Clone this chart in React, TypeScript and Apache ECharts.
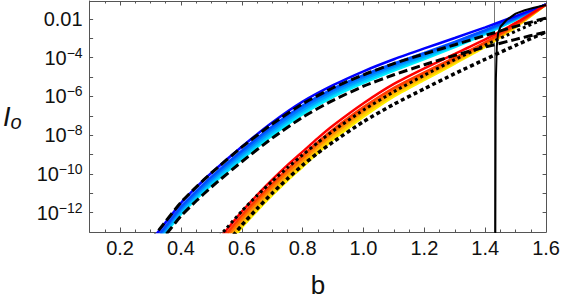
import React, { useEffect, useRef } from 'react';
import * as echarts from 'echarts';

// x grid and log10 values (exponents)
const blueX = [0.30, 0.35, 0.40, 0.45, 0.50, 0.60, 0.70, 0.80, 0.90, 1.00, 1.10, 1.20, 1.30, 1.40, 1.50, 1.60];
const blueTopLog = [-13.5, -12.5, -11.5, -10.7, -9.95, -8.6, -7.35, -6.27, -5.42, -4.7, -4.08, -3.52, -2.98, -2.43, -1.85, -1.25];
const blueBand1Log = [-13.7, -12.7, -11.7, -10.9, -10.15, -8.8, -7.55, -6.47, -5.6, -4.9, -4.3, -3.75, -3.18, -2.57, -1.93, -1.25];
const blueBand2Log = [-13.79, -12.79, -11.8, -11.0, -10.26, -8.91, -7.67, -6.58, -5.7, -5.0, -4.39, -3.83, -3.25, -2.62, -1.96, -1.25];
const blueBand3Log = [-13.88, -12.88, -11.89, -11.1, -10.36, -9.03, -7.78, -6.69, -5.81, -5.1, -4.48, -3.91, -3.32, -2.68, -1.99, -1.25];
const blueBand4Log = [-13.96, -12.96, -11.99, -11.2, -10.47, -9.14, -7.9, -6.8, -5.91, -5.2, -4.57, -3.99, -3.38, -2.73, -2.02, -1.25];
const cyanLog = [-14.05, -13.05, -12.08, -11.3, -10.57, -9.25, -8.01, -6.91, -6.02, -5.3, -4.66, -4.07, -3.45, -2.78, -2.05, -1.25];
const dashUpperLog = [-13.45, -12.45, -11.47, -10.68, -9.95, -8.62, -7.42, -6.38, -5.55, -4.88, -4.3, -3.8, -3.33, -2.85, -2.38, -1.95];
const dashLowerLog = [-14.15, -13.15, -12.18, -11.4, -10.68, -9.37, -8.15, -7.07, -6.2, -5.47, -4.88, -4.36, -3.88, -3.45, -3.05, -2.67];

const redX = [0.50, 0.55, 0.60, 0.65, 0.70, 0.75, 0.80, 0.85, 0.90, 1.00, 1.10, 1.20, 1.30, 1.40, 1.50, 1.60];
const redTopLog = [-13.85, -12.9, -11.95, -11.1, -10.3, -9.55, -8.85, -8.15, -7.5, -6.35, -5.35, -4.55, -3.8, -3.05, -2.2, -1.25];
const redBand1Log = [-14.05, -13.1, -12.15, -11.3, -10.5, -9.75, -9.05, -8.35, -7.7, -6.55, -5.55, -4.75, -4.0, -3.2, -2.28, -1.25];
const redBand2Log = [-14.21, -13.26, -12.31, -11.45, -10.65, -9.9, -9.2, -8.49, -7.84, -6.68, -5.66, -4.85, -4.08, -3.26, -2.32, -1.25];
const redBand3Log = [-14.38, -13.43, -12.46, -11.61, -10.8, -10.05, -9.34, -8.63, -7.97, -6.8, -5.78, -4.95, -4.15, -3.32, -2.35, -1.25];
const redBand4Log = [-14.54, -13.59, -12.62, -11.76, -10.95, -10.19, -9.49, -8.77, -8.11, -6.93, -5.89, -5.05, -4.23, -3.37, -2.39, -1.25];
const yellowLog = [-14.7, -13.75, -12.77, -11.91, -11.1, -10.34, -9.63, -8.91, -8.24, -7.05, -6.0, -5.15, -4.3, -3.43, -2.42, -1.25];
const dotUpperLog = [-13.7, -12.8, -11.92, -11.12, -10.38, -9.68, -9.02, -8.38, -7.78, -6.7, -5.75, -4.9, -4.1, -3.35, -2.63, -1.95];
const dotLowerLog = [-14.6, -13.6, -12.65, -11.8, -11.0, -10.25, -9.55, -8.92, -8.35, -7.3, -6.4, -5.6, -4.82, -4.08, -3.36, -2.67];

const poleX = [1.433, 1.434, 1.435, 1.438, 1.442, 1.45, 1.47, 1.50, 1.53, 1.56, 1.60];
const poleLog = [-14, -7.0, -5.1, -3.4, -2.75, -2.4, -2.05, -1.72, -1.55, -1.42, -1.28];
const poleB = 1.433;

const xMajorTicks = [0.2, 0.4, 0.6, 0.8, 1.0, 1.2, 1.4, 1.6];
const yMinLog = -13;
const yMaxLog = -1.07;

const blueColors = ['#0000ff', '#0050ff', '#0078ff', '#00a0ff', '#00c8ff', '#00f0ff'];
const redColors = ['#ff0000', '#ff3c00', '#ff6e00', '#ff9c00', '#ffc800', '#ffee00'];

export default function App() {
  const ref = useRef<HTMLDivElement>(null);
  useEffect(() => {
    const chart = echarts.init(ref.current as HTMLDivElement, null, { renderer: 'svg' });
    const font = '"Liberation Sans", Arial, sans-serif';
    const axisColor = '#555';
    const textColor = '#111';
    const pairs = (xs: number[], ys: number[]) => xs.map((x, i) => [x, ys[i]]);
    const line = (name: string, xs: number[], ys: number[], color: string, width: number, type: any, z: number, smooth: any = 0.2, extra: any = {}) => ({
      type: 'line', name, data: pairs(xs, ys), showSymbol: false, symbol: 'none', smooth, clip: true, z,
      silent: true, xAxisIndex: 0, yAxisIndex: 0,
      lineStyle: { color, width, type, cap: 'butt' },
      emphasis: { disabled: true },
      ...extra,
    });

    const blueSets = [blueTopLog, blueBand1Log, blueBand2Log, blueBand3Log, blueBand4Log, cyanLog];
    const redSets = [redTopLog, redBand1Log, redBand2Log, redBand3Log, redBand4Log, yellowLog];
    const series: any[] = [];
    for (let i = blueSets.length - 1; i >= 0; i--) {
      series.push(line('blue' + i, blueX, blueSets[i], blueColors[i], 2.5, 'solid', 2 + (blueSets.length - i) * 0.01));
    }
    for (let i = redSets.length - 1; i >= 0; i--) {
      series.push(line('red' + i, redX, redSets[i], redColors[i], 2.5, 'solid', 2 + (redSets.length - i) * 0.01));
    }
    series.push(line('dashUpper', blueX, dashUpperLog, '#000', 3, [9, 4], 5));
    series.push(line('dashLower', blueX, dashLowerLog, '#000', 3, [9, 4], 5));
    series.push(line('dotUpper', redX, dotUpperLog, '#000', 3, [3, 3], 5));
    series.push(line('dotLower', redX, dotLowerLog, '#000', 3.5, [4, 3], 5));
    series.push(line('pole', poleX, poleLog, '#000', 2, 'solid', 6, false, {
      markLine: {
        silent: true, symbol: 'none', label: { show: false },
        lineStyle: { color: '#777', width: 1, type: 'solid' },
        data: [{ xAxis: poleB }],
        z: 1,
      },
    }));

    const tickStyle = { color: axisColor, width: 1 };
    const xBase = { type: 'value', min: 0.1, max: 1.6, splitLine: { show: false } };
    const yBase = { type: 'value', min: yMinLog, max: yMaxLog, interval: 1, splitLine: { show: false } };

    chart.setOption({
      animation: false,
      backgroundColor: '#ffffff',
      grid: { left: 83, right: 16, top: 1, bottom: 72, containLabel: false },
      xAxis: [
        { ...xBase, position: 'bottom', interval: 0.05,
          axisLine: { show: true, onZero: false, lineStyle: tickStyle },
          axisTick: { show: true, inside: true, length: 2.5, lineStyle: tickStyle },
          axisLabel: { show: false } },
        { ...xBase, position: 'bottom',
          axisLine: { show: false, onZero: false },
          axisTick: { show: true, inside: true, length: 4.5, customValues: xMajorTicks, lineStyle: tickStyle },
          axisLabel: { show: true, customValues: xMajorTicks, formatter: (v: number) => v.toFixed(1), fontSize: 20, fontFamily: font, color: textColor, margin: 6 },
          name: 'b', nameLocation: 'middle', nameGap: 40,
          nameTextStyle: { fontSize: 26, fontFamily: font, color: textColor } },
        { ...xBase, position: 'top', interval: 0.05,
          axisLine: { show: true, onZero: false, lineStyle: tickStyle },
          axisTick: { show: true, inside: true, length: 2.5, lineStyle: tickStyle },
          axisLabel: { show: false } },
        { ...xBase, position: 'top',
          axisLine: { show: false, onZero: false },
          axisTick: { show: true, inside: true, length: 4.5, customValues: xMajorTicks, lineStyle: tickStyle },
          axisLabel: { show: false } },
      ],
      yAxis: [
        { ...yBase, position: 'left',
          axisLine: { show: true, onZero: false, lineStyle: tickStyle },
          axisTick: { show: true, inside: true, length: 3.5, lineStyle: tickStyle },
          axisLabel: {
            margin: 7,
            formatter: (v: number) => {
              const n = Math.round(v);
              if (Math.abs(v - n) > 1e-6 || n % 2 !== 0) return '';
              if (n === -2) return '{n|0.01}';
              return '{n|10}{s|\u2212' + (-n) + '}';
            },
            rich: {
              n: { fontSize: 20, fontFamily: font, color: textColor, lineHeight: 24 },
              s: { fontSize: 14, fontFamily: font, color: textColor, lineHeight: 13, verticalAlign: 'top' },
            },
          },
          name: '{i|I}{o|o}', nameLocation: 'middle', nameRotate: 0, nameGap: 68,
          nameTextStyle: {
            rich: {
              i: { fontSize: 27, fontStyle: 'italic', fontFamily: font, color: textColor, lineHeight: 30 },
              o: { fontSize: 20, fontStyle: 'italic', fontFamily: font, color: textColor, lineHeight: 24, verticalAlign: 'bottom' },
            },
          } },
        { ...yBase, position: 'right',
          axisLine: { show: true, onZero: false, lineStyle: tickStyle },
          axisTick: { show: true, inside: true, length: 3.5, lineStyle: tickStyle },
          axisLabel: { show: false } },
      ],
      series,
    });
    return () => chart.dispose();
  }, []);
  return <div ref={ref} style={{ position: 'fixed', left: 0, top: 0, width: 563, height: 304, background: '#fff' }} />;
}
